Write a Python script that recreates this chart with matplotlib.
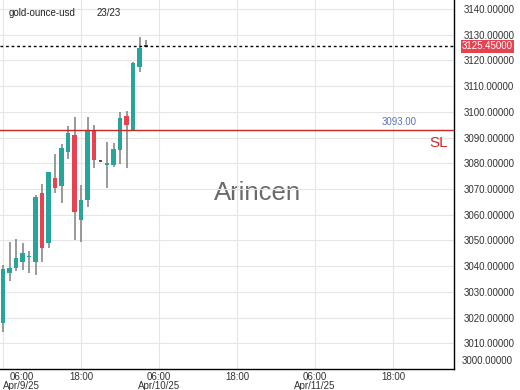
import matplotlib
matplotlib.use("Agg")
import matplotlib.pyplot as plt
import matplotlib.dates as mdates
import matplotlib.transforms as mtransforms
import pandas as pd

plt.rcParams["font.family"] = ["Liberation Sans", "DejaVu Sans"]

# hourly candles, gold-ounce-usd
times = pd.date_range("2025-04-09 06:00", periods=23, freq="h")
opens = [3017.9, 3037.3, 3039.3, 3041.6, 3043.7, 3041.6, 3068.4, 3049.0, 3074.3, 3071.2, 3084.4, 3091.0,
         3057.9, 3065.7, 3092.9, 3080.9, 3079.3, 3079.3, 3085.2, 3098.4, 3092.9, 3117.6, 3125.45]
closes = [3038.9, 3039.3, 3043.2, 3045.1, 3043.9, 3066.9, 3047.0, 3076.6, 3070.4, 3085.9, 3091.8, 3061.0,
          3065.7, 3092.9, 3081.1, 3080.9, 3080.1, 3085.5, 3097.6, 3094.9, 3119.1, 3124.7, 3125.45]
highs = [3040.4, 3049.4, 3050.5, 3049.0, 3045.9, 3067.7, 3071.9, 3076.8, 3083.6, 3087.5, 3094.5, 3098.0,
         3071.5, 3098.0, 3094.9, 3080.9, 3088.3, 3087.9, 3099.9, 3100.3, 3119.4, 3129.0, 3128.0]
lows = [3014.4, 3034.2, 3038.1, 3038.5, 3037.3, 3036.5, 3041.6, 3047.0, 3068.4, 3064.5, 3081.6, 3050.2,
        3049.4, 3063.0, 3078.2, 3080.9, 3070.4, 3078.5, 3079.7, 3078.2, 3092.9, 3115.6, 3125.2]

last_price = 3125.45
stop_loss = 3093.00
y_ticks = [3010, 3020, 3030, 3040, 3050, 3060, 3070, 3080, 3090, 3100, 3110, 3120, 3130, 3140]
x_ticks = pd.to_datetime(["2025-04-09 06:00", "2025-04-09 18:00", "2025-04-10 06:00",
                          "2025-04-10 18:00", "2025-04-11 06:00", "2025-04-11 18:00"])
x_labels = ["06:00\nApr/9/25", "18:00", "06:00\nApr/10/25", "18:00", "06:00\nApr/11/25", "18:00"]

up = "#26a69a"
down = "#e8414f"

fig = plt.figure(figsize=(5.2, 3.9), dpi=100)
ax = fig.add_axes([0, 21 / 390, 454 / 520, 369 / 390])

xs = mdates.date2num(times)
hour = 1 / 24
for x, o, c, h, l in zip(xs, opens, closes, highs, lows):
    ax.vlines(x, l, h, color="#7f7f7f", lw=1.1, zorder=2)
    if o == c:
        ax.hlines(o, x - 0.3 * hour, x + 0.3 * hour, color="#333333", lw=1.2, zorder=3)
        continue
    col = up if c > o else down
    bottom = min(o, c)
    height = max(abs(c - o), 0.4)
    ax.bar(x, height, bottom=bottom, width=0.62 * hour, color=col, zorder=3, linewidth=0)

# last price and stop loss lines
ax.axhline(last_price, color="black", lw=1, ls=(0, (2, 2)), zorder=4)
ax.axhline(stop_loss, color="#c62828", lw=1, zorder=4)

x0 = mdates.date2num(pd.Timestamp("2025-04-09 06:00"))
ax.set_xlim(x0 - 3 / 6.5 * hour, x0 + 451 / 6.5 * hour)
ax.set_ylim(3000, 3143.5)

ax.set_yticks(y_ticks)
ax.set_yticklabels([f"{v:.5f}" for v in y_ticks])
ax.yaxis.tick_right()
ax.tick_params(axis="y", length=0, pad=7, labelsize=7, labelcolor="#333333")
ax.set_xticks(mdates.date2num(x_ticks))
ax.set_xticklabels(x_labels)
ax.tick_params(axis="x", length=0, pad=2, labelsize=7, labelcolor="#333333")
for t in ax.get_xticklabels():
    t.set_linespacing(0.9)
first = ax.get_xticklabels()[0]
first.set_ha("left")
first.set_multialignment("center")

ax.grid(True, color="#e6e6e6", lw=0.8, zorder=0)
for s in ["top", "left"]:
    ax.spines[s].set_visible(False)
ax.spines["right"].set_linewidth(1)
ax.spines["bottom"].set_linewidth(1)

trans = mtransforms.blended_transform_factory(ax.transAxes, ax.transData)
ax.text(1.017, 3003.3, "3000.00000", transform=trans, fontsize=7, color="#333333",
        va="center", ha="left", clip_on=False)
ax.text(1.017, last_price, f"{last_price:.5f}", transform=trans, fontsize=7, color="white",
        va="center", ha="left", clip_on=False,
        bbox=dict(boxstyle="square,pad=0.12", facecolor=down, edgecolor="none"))

ax.text(0.918, stop_loss + 1.0, f"{stop_loss:.2f}", transform=trans, fontsize=7, color="#5b74c0",
        ha="right", va="bottom")
ax.text(0.987, stop_loss - 5.2, "SL", transform=trans, fontsize=11, color="#d62b2b",
        ha="right", va="center")

ax.text(0.02, 0.965, "gold-ounce-usd", transform=ax.transAxes, fontsize=7, color="#222222",
        ha="left", va="center")
ax.text(0.213, 0.965, "23/23", transform=ax.transAxes, fontsize=7, color="#222222",
        ha="left", va="center")
ax.text(0.568, 0.477, "Arincen", transform=ax.transAxes, fontsize=18.5, color="#6a6a6a",
        ha="center", va="center", zorder=1)

fig.savefig("out.png", dpi=100)
